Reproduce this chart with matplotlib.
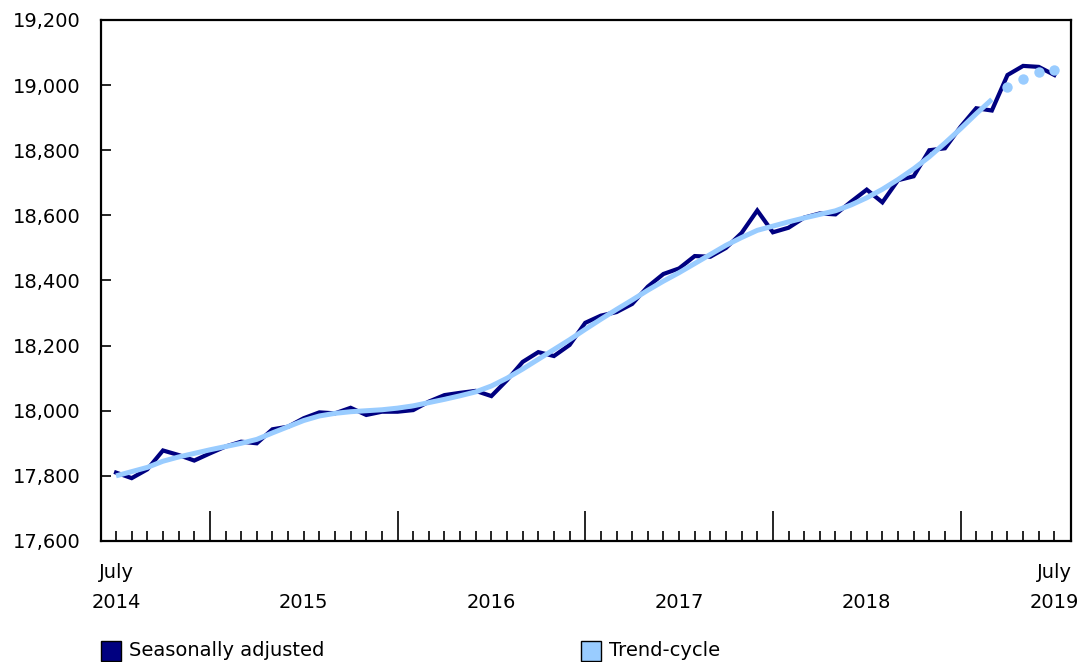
"""
Monthly series, July 2014 to July 2019: seasonally adjusted values
and the trend-cycle (last months shown as dots).
"""

import matplotlib
matplotlib.use("Agg")
import matplotlib.pyplot as plt
from matplotlib.patches import Rectangle
from matplotlib.ticker import FuncFormatter, FixedLocator

# --- data ----------------------------------------------------------------
seasonally_adjusted = [
    17810, 17793, 17820, 17878, 17864, 17847, 17869, 17890, 17905, 17900,
    17943, 17951, 17977, 17995, 17992, 18009, 17987, 17997, 17997, 18002,
    18028, 18048, 18055, 18061, 18045, 18094, 18150, 18180, 18168, 18202,
    18270, 18292, 18303, 18328, 18381, 18420, 18437, 18475, 18473, 18500,
    18546, 18615, 18548, 18562, 18593, 18606, 18603, 18642, 18679, 18640,
    18708, 18720, 18800, 18806, 18872, 18929, 18922, 19031, 19059, 19056,
    19031,
]
trend_cycle = [
    17800, 17813, 17826, 17845, 17858, 17869, 17880, 17890, 17900, 17912,
    17932, 17951, 17970, 17984, 17992, 17997, 18000, 18003, 18008, 18015,
    18025, 18035, 18046, 18058, 18076, 18100, 18128, 18158, 18188, 18218,
    18250, 18281, 18311, 18340, 18370, 18398, 18424, 18452, 18480, 18508,
    18532, 18554, 18567, 18580, 18592, 18603, 18614, 18632, 18654, 18680,
    18710, 18743, 18780, 18822, 18866, 18912, 18956,
]
trend_projected = [18995, 19020, 19039, 19046]

months = list(range(len(seasonally_adjusted)))
year_start_idx = [6, 18, 30, 42, 54]          # January of each year
label_idx = [0, 12, 24, 36, 48, 60]
label_text = ["July\n2014", "\n2015", "\n2016", "\n2017", "\n2018", "July\n2019"]
yticks = [17600, 17800, 18000, 18200, 18400, 18600, 18800, 19000, 19200]

SA_COLOR = "#000080"
TREND_COLOR = "#99ccff"
FS = 14

plt.rcParams["font.family"] = ["DejaVu Sans"]

fig = plt.figure(figsize=(10.84, 6.62), dpi=100)
ax = fig.add_axes([0.0932, 0.1828, 0.8948, 0.787])

ax.plot(months, seasonally_adjusted, color=SA_COLOR, linewidth=3.0,
        solid_joinstyle="miter", zorder=2)
ax.plot(months[:len(trend_cycle)], trend_cycle, color=TREND_COLOR,
        linewidth=3.6, solid_capstyle="butt", zorder=3)
proj_x = months[len(trend_cycle):]
ax.plot(proj_x, trend_projected, linestyle="none", marker="o",
        markersize=7.5, color=TREND_COLOR, markeredgewidth=0, zorder=3)

ax.set_xlim(-0.96, 61.06)
ax.set_ylim(17600, 19200)

# y axis
ax.set_yticks(yticks)
ax.yaxis.set_major_formatter(FuncFormatter(lambda v, _: f"{v:,.0f}"))
ax.tick_params(axis="y", direction="in", length=7, width=1.2, pad=15,
               labelsize=FS, colors="black")

# x axis: small ticks every month, long ticks at January, labels at July
ax.xaxis.set_minor_locator(FixedLocator([m for m in months if m not in year_start_idx]))
ax.xaxis.set_major_locator(FixedLocator(year_start_idx))
ax.set_xticklabels([""] * len(year_start_idx))
ax.tick_params(axis="x", which="major", direction="in", length=21.5, width=1.2)
ax.tick_params(axis="x", which="minor", direction="in", length=7, width=1.2)

for idx, txt in zip(label_idx, label_text):
    ax.text(idx, -0.043, txt, transform=ax.get_xaxis_transform(),
            ha="center", va="top", fontsize=FS, linespacing=1.7)

for side in ["left", "right", "top", "bottom"]:
    ax.spines[side].set_linewidth(1.6)

# legend below the plot
legend_items = [("Seasonally adjusted", SA_COLOR, 101), ("Trend-cycle", TREND_COLOR, 581)]
for label, color, px in legend_items:
    fig.patches.append(Rectangle((px / 1084, 1 - 661 / 662), 20 / 1084, 20 / 662,
                                 transform=fig.transFigure, facecolor=color,
                                 edgecolor="black", linewidth=1.0))
    fig.text((px + 28) / 1084, 1 - 651 / 662, label, fontsize=FS,
             ha="left", va="center")

fig.savefig("out.png", dpi=100)
